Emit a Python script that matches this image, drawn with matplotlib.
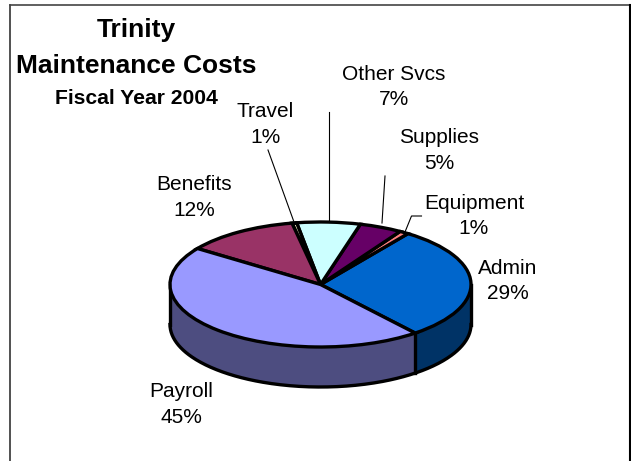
import numpy as np
import matplotlib
matplotlib.use("Agg")
import matplotlib.pyplot as plt

W, H = 631, 461
plt.rcParams['font.family'] = ['Liberation Sans', 'DejaVu Sans']

categories = ['Admin', 'Equipment', 'Supplies', 'Other Svcs', 'Travel', 'Benefits', 'Payroll']
values = [29.3, 1.0, 4.6, 6.8, 0.5, 12.2, 45.6]
pct_labels = ['29%', '1%', '5%', '7%', '1%', '12%', '45%']
top_colors = ['#0066CC', '#FF8080', '#660066', '#CCFFFF', '#FFFFCC', '#993366', '#9999FF']
side_colors = ['#003366', '#804040', '#330033', '#668080', '#808066', '#4D1A33', '#4D4D80']
start_angle = -51
label_px = [(508, 281), (474, 216), (439, 150.5), (394, 87), (265, 124.5), (194, 197.5), (181, 404.5)]
leaders = [[(421.5, 216), (411.5, 216), (405, 232)],
           [(385, 176), (382, 223)],
           [(328.5, 112), (328.5, 222)],
           [(268, 150), (294, 222)]]

cx, cy, a, b, depth = 320.5, 284.5, 150.5, 62.5, 40

fig = plt.figure(figsize=(W / 100, H / 100), dpi=100)
ax = fig.add_axes([0, 0, 1, 1])
ov = fig.add_axes([0, 0, 1, 1], zorder=3)
ov.set_xlim(0, W); ov.set_ylim(H, 0); ov.axis('off')

wedges, _ = ax.pie(values, colors=top_colors, startangle=start_angle, counterclock=True,
                   radius=1, wedgeprops=dict(edgecolor='black', linewidth=2.4))
ax.set_aspect('auto')
ax.set_xlim(-cx / a, (W - cx) / a)
ax.set_ylim((cy - H) / b, cy / b)

# Side wall of the pie, visible along the front half
edges = start_angle + np.concatenate([[0], np.cumsum(values)]) * 3.6
d = depth / b
for i in range(len(values)):
    lo, hi = edges[i], edges[i + 1]
    for shift in (-360, 0):
        l, h = max(lo + shift, -180), min(hi + shift, 0)
        if h <= l:
            continue
        t = np.radians(np.linspace(l, h, 200))
        x, y = np.cos(t), np.sin(t)
        ax.fill_between(x, y - d, y, color=side_colors[i], lw=0, zorder=0.5)
# Outline of the wall
t = np.radians(np.linspace(-180, 0, 300))
ax.plot(np.cos(t), np.sin(t) - d, color='black', lw=2.4, zorder=0.6)
ax.plot([-1, -1], [0, -d], color='black', lw=2.4, zorder=0.6)
ax.plot([1, 1], [0, -d], color='black', lw=2.4, zorder=0.6)
e = np.radians(start_angle)
ax.plot([np.cos(e)] * 2, [np.sin(e), np.sin(e) - d], color='black', lw=2.4, zorder=0.6)

# Chart frame
ov.plot([9.5, 9.5], [461, 5.5], color='#333333', lw=1.2, clip_on=False)
ov.plot([9.5, 630], [5.5, 5.5], color='#444444', lw=1.2, clip_on=False)
ov.plot([630, 630], [5.5, 461], color='black', lw=1.5, clip_on=False)

# Data labels
for name, pct, (px, py) in zip(categories, pct_labels, label_px):
    ov.text(px, py, f'{name}\n{pct}', ha='center', va='center', fontsize=15, linespacing=1.45)
for pts in leaders:
    xs, ys = zip(*pts)
    ov.plot(xs, ys, color='black', lw=0.8)

# Title
ov.text(136, 30, 'Trinity', ha='center', va='center', fontsize=19, fontweight='bold')
ov.text(136, 66, 'Maintenance Costs', ha='center', va='center', fontsize=19, fontweight='bold')
ov.text(136, 98, 'Fiscal Year 2004', ha='center', va='center', fontsize=15.2, fontweight='bold')

fig.savefig('out.png', dpi=100)
